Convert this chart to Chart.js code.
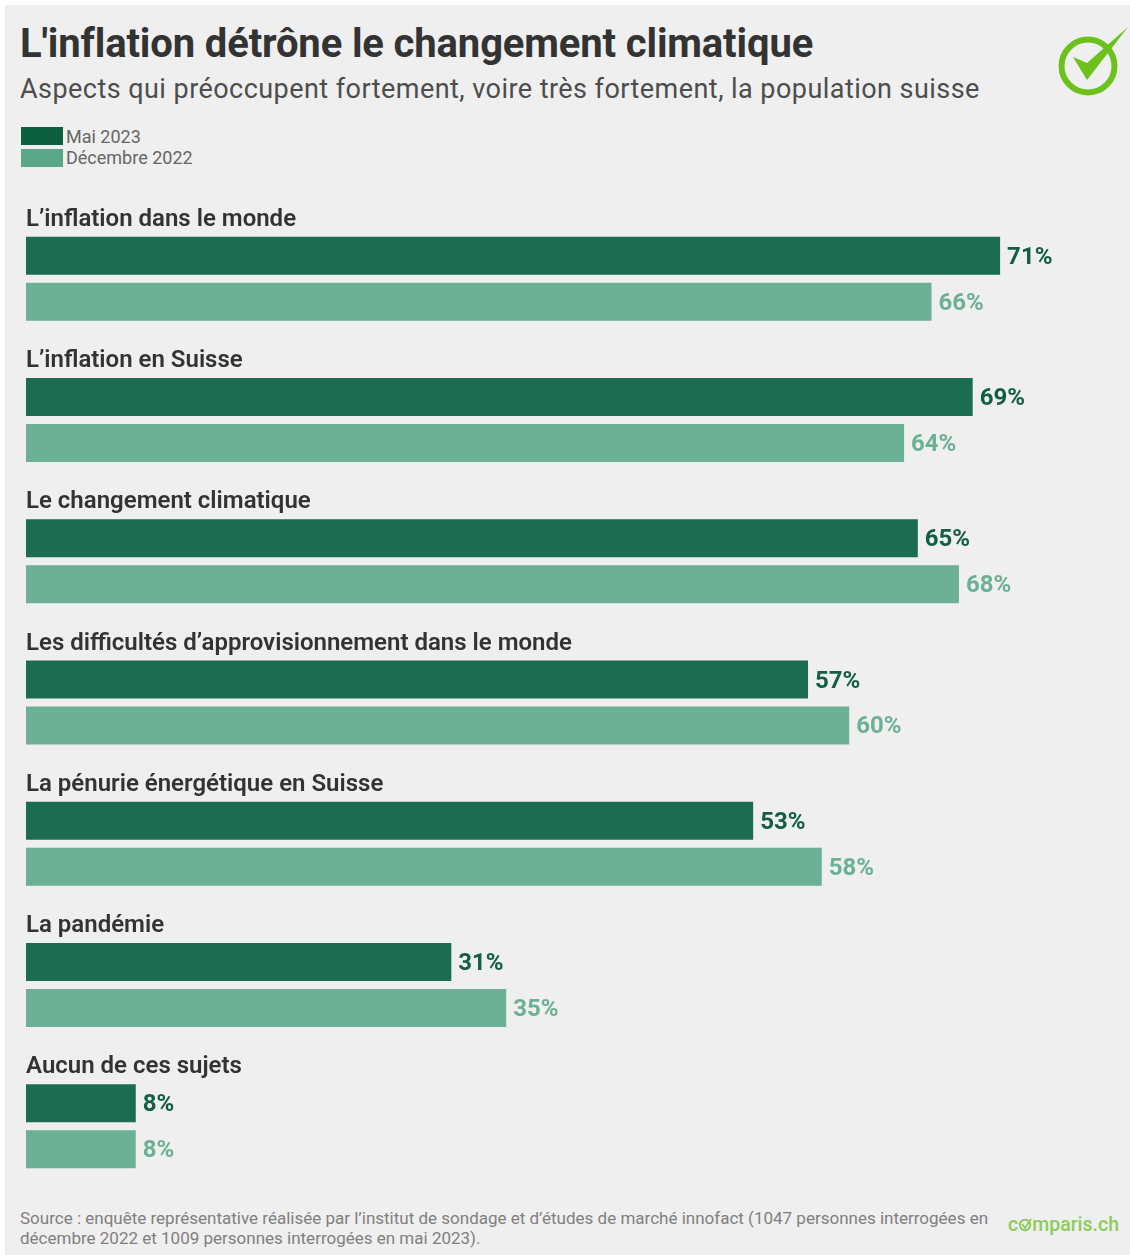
<!DOCTYPE html>
<html lang="fr">
<head>
<meta charset="utf-8">
<title>L'inflation détrône le changement climatique</title>
<script src="https://cdn.jsdelivr.net/npm/chart.js@4"></script>
<style>
  html, body { margin: 0; padding: 0; background: #fff; }
  body { width: 1130px; height: 1255px; position: relative; overflow: hidden; font-family: Roboto, sans-serif; }
  #panel { position: absolute; left: 5px; top: 5px; width: 1125px; height: 1250px; background: #efefef; }
  .txt { position: absolute; white-space: nowrap; }
  #heading { left: 20px; top: 21px; font-size: 40px; line-height: 46px; font-weight: 700; color: #333; letter-spacing: -0.14px; }
  #subheading { left: 20px; top: 72px; font-size: 27px; line-height: 34px; color: #4d4d4d; letter-spacing: 0.45px; }
  .swatch { position: absolute; left: 21px; width: 42px; height: 18px; }
  .key { left: 66px; font-size: 18px; line-height: 22px; color: #666; }
  #source { left: 20px; top: 1208px; font-size: 17px; line-height: 20px; color: #808080; }
  #brand { left: 1008px; top: 1212px; font-size: 19.5px; line-height: 26px; font-weight: 500; color: #8ccb5e; }
  #chartBox { position: absolute; left: 0; top: 207.6px; width: 1130px; height: 989px; }
  #logo { position: absolute; left: 1050px; top: 20px; }
</style>
</head>
<body>
<div id="panel"></div>
<div class="txt" id="heading">L'inflation détrône le changement climatique</div>
<div class="txt" id="subheading">Aspects qui préoccupent fortement, voire très fortement, la population suisse</div>
<div id="legendBox"></div>
<svg id="logo" width="80" height="80" viewBox="1050 20 80 80">
  <circle cx="1088" cy="66" r="26.5" fill="none" stroke="#6cc11a" stroke-width="6"/>
  <path d="M1073 57 L1087 63 L1128 27 L1087 80 Z" fill="#6cc11a"/>
</svg>
<div id="chartBox"><canvas id="worriesChart"></canvas></div>
<div class="txt" id="source">Source : enquête représentative réalisée par l’institut de sondage et d’études de marché innofact (1047 personnes interrogées en<br>décembre 2022 et 1009 personnes interrogées en mai 2023).</div>
<div class="txt" id="brand">c<svg width="14" height="14" viewBox="0 0 14 14" style="vertical-align:-1px"><circle cx="7" cy="7" r="5.2" fill="none" stroke="#8ccb5e" stroke-width="2"/><path d="M4 6 L7 10 L13 1" fill="none" stroke="#8ccb5e" stroke-width="1.8"/></svg>mparis.ch</div>

<script>
const categories = [
    'L’inflation dans le monde',
    'L’inflation en Suisse',
    'Le changement climatique',
    'Les difficultés d’approvisionnement dans le monde',
    'La pénurie énergétique en Suisse',
    'La pandémie',
    'Aucun de ces sujets'
];
const mai2023 = [71, 69, 65, 57, 53, 31, 8];
const decembre2022 = [66, 64, 68, 60, 58, 35, 8];
const seriesNames = ['Mai 2023', 'Décembre 2022'];

const darkBar = '#1b6c50';
const lightBar = '#6cb196';
const darkText = '#125f45';
const lightText = '#6cb196';

// legend lives in the page, above the canvas
const legendBox = document.getElementById('legendBox');
[['#0c5f41', 127, 126], ['#5aa889', 149, 147]].forEach(([color, swatchTop, keyTop], i) => {
    const swatch = document.createElement('div');
    swatch.className = 'swatch';
    swatch.style.top = swatchTop + 'px';
    swatch.style.background = color;
    legendBox.appendChild(swatch);

    const key = document.createElement('div');
    key.className = 'txt key';
    key.style.top = keyTop + 'px';
    key.textContent = seriesNames[i];
    legendBox.appendChild(key);
});

// category name above each group, percentage after each bar
const barLabels = {
    id: 'barLabels',
    afterDatasetsDraw(chart) {
        const ctx = chart.ctx;
        const yScale = chart.scales.y;
        ctx.save();
        ctx.textBaseline = 'middle';
        ctx.textAlign = 'left';

        ctx.font = '600 24px Roboto';
        ctx.fillStyle = '#333';
        categories.forEach((name, i) => {
            ctx.fillText(name, chart.chartArea.left, yScale.getPixelForTick(i) - 59);
        });

        ctx.font = '700 24px Roboto';
        chart.data.datasets.forEach((dataset, d) => {
            ctx.fillStyle = d === 0 ? darkText : lightText;
            chart.getDatasetMeta(d).data.forEach((bar, i) => {
                ctx.fillText(dataset.data[i] + '%', bar.x + 7, bar.y + 2);
            });
        });
        ctx.restore();
    }
};

new Chart(document.getElementById('worriesChart'), {
    type: 'bar',
    data: {
        labels: categories,
        datasets: [
            { label: seriesNames[0], data: mai2023, backgroundColor: darkBar },
            { label: seriesNames[1], data: decembre2022, backgroundColor: lightBar }
        ]
    },
    options: {
        indexAxis: 'y',
        responsive: true,
        maintainAspectRatio: false,
        animation: false,
        categoryPercentage: 0.651,
        barPercentage: 0.826,
        layout: { padding: { left: 26, right: 6.4, top: 0, bottom: 0 } },
        plugins: {
            legend: { display: false },
            tooltip: { enabled: false }
        },
        scales: {
            x: { display: false, min: 0, max: 80 },
            y: { display: false }
        }
    },
    plugins: [barLabels]
});
</script>
</body>
</html>
